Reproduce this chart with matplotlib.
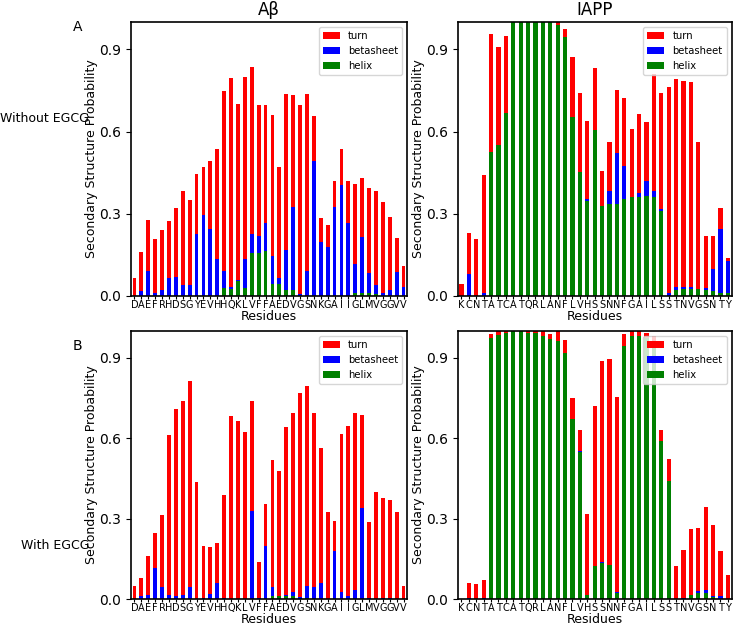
import numpy as np
import matplotlib
matplotlib.use("Agg")
from matplotlib import pyplot as plt

abeta_res = list("DAEFRHDSGYEVHHQKLVFFAEDVGSNKGAIIGLMVGGVV")
iapp_res = list("KCNTATCATQRLANFLVHSSNNFGAILSSTNVGSNTY")

# Abeta, without EGCG
ab_helix = [0, 0, 0, 0, 0, 0, 0, 0, 0, 0, 0, 0, 0, 0.027, 0.025, 0.053, 0.027, 0.155, 0.155, 0.164,
            0.044, 0.042, 0.022, 0.022, 0, 0, 0, 0, 0, 0, 0, 0, 0.01, 0.01, 0.01, 0.007, 0, 0, 0, 0]
ab_beta = [0, 0.016, 0.092, 0.01, 0.02, 0.065, 0.07, 0.04, 0.039, 0.227, 0.295, 0.245, 0.133, 0.065,
           0.006, 0.006, 0.108, 0.069, 0.062, 0.103, 0.10, 0.022, 0.145, 0.302, 0.005, 0.089, 0.493,
           0.196, 0.178, 0.324, 0.405, 0.267, 0.107, 0.205, 0.075, 0.033, 0.01, 0.021, 0.088, 0.032]
ab_turn = [0.065, 0.144, 0.185, 0.199, 0.219, 0.207, 0.252, 0.344, 0.312, 0.217, 0.174, 0.248, 0.402,
           0.656, 0.766, 0.641, 0.665, 0.613, 0.479, 0.429, 0.516, 0.405, 0.571, 0.41, 0.69, 0.647,
           0.163, 0.089, 0.079, 0.094, 0.13, 0.151, 0.291, 0.217, 0.31, 0.341, 0.334, 0.267, 0.124, 0.075]

# Abeta, with EGCG
abe_helix = [0, 0, 0, 0, 0, 0, 0, 0, 0, 0, 0, 0, 0, 0, 0, 0, 0, 0, 0, 0,
             0.01, 0.01, 0.012, 0.012, 0, 0.004, 0, 0, 0, 0, 0, 0, 0, 0, 0, 0, 0, 0, 0, 0]
abe_beta = [0, 0.01, 0.015, 0.116, 0.044, 0.016, 0.012, 0.017, 0.044, 0, 0.003, 0.02, 0.06, 0.005,
            0, 0, 0, 0.33, 0.005, 0.198, 0.035, 0.002, 0.003, 0.015, 0.007, 0.045, 0.045, 0.061,
            0, 0.18, 0.026, 0.012, 0.034, 0.338, 0.005, 0, 0.003, 0.003, 0, 0]
abe_turn = [0.049, 0.067, 0.144, 0.13, 0.271, 0.596, 0.696, 0.723, 0.771, 0.435, 0.195, 0.176, 0.15,
            0.384, 0.682, 0.665, 0.625, 0.407, 0.133, 0.157, 0.475, 0.466, 0.626, 0.668, 0.762, 0.745,
            0.648, 0.501, 0.324, 0.11, 0.588, 0.633, 0.661, 0.347, 0.284, 0.40, 0.374, 0.366, 0.326, 0.049]

# IAPP, without EGCG
ia_helix = [0, 0, 0, 0, 0.525, 0.551, 0.669, 1, 1, 1, 1, 1, 1, 0.99, 0.945, 0.653, 0.453, 0.347,
            0.606, 0.328, 0.337, 0.337, 0.355, 0.359, 0.362, 0.365, 0.361, 0.31, 0, 0.022, 0.024,
            0.024, 0.024, 0.02, 0.017, 0.01, 0.01]
ia_beta = [0, 0.081, 0, 0.01, 0, 0, 0, 0, 0, 0, 0, 0, 0, 0, 0, 0, 0, 0.005, 0, 0, 0.044, 0.183,
           0.12, 0.003, 0.013, 0.055, 0.022, 0.006, 0.01, 0.009, 0.008, 0.008, 0, 0.01, 0.082,
           0.235, 0.116]
ia_turn = [0.044, 0.147, 0.208, 0.431, 0.43, 0.359, 0.28, 0, 0, 0, 0, 0, 0, 0.01, 0.03, 0.219,
           0.287, 0.287, 0.227, 0.129, 0.179, 0.233, 0.249, 0.248, 0.288, 0.214, 0.427, 0.424,
           0.754, 0.759, 0.754, 0.749, 0.538, 0.19, 0.121, 0.077, 0.012]

# IAPP, with EGCG
iae_helix = [0, 0, 0, 0, 0.972, 0.985, 0.994, 1, 1, 0.994, 0.994, 0.982, 0.97, 0.963, 0.918, 0.672,
             0.548, 0.017, 0.125, 0.133, 0.127, 0.024, 0.945, 0.981, 0.982, 0.973, 0.96, 0.591,
             0.441, 0, 0, 0.017, 0.022, 0.021, 0.009, 0, 0]
iae_beta = [0, 0.004, 0, 0.004, 0, 0, 0, 0, 0, 0, 0, 0, 0, 0, 0, 0, 0.004, 0, 0, 0.004, 0, 0.004,
            0, 0, 0, 0, 0, 0, 0, 0, 0.005, 0, 0.007, 0.012, 0.001, 0.011, 0]
iae_turn = [0, 0.055, 0.056, 0.066, 0.015, 0.015, 0.006, 0, 0, 0.006, 0.006, 0.018, 0.017, 0.037,
            0.048, 0.078, 0.077, 0.30, 0.595, 0.75, 0.767, 0.724, 0.042, 0.019, 0.018, 0.021,
            0.022, 0.04, 0.082, 0.122, 0.18, 0.244, 0.236, 0.311, 0.267, 0.167, 0.091]


def panel(ax, res, helix, beta, turn):
    x = np.arange(len(res))
    helix = np.array(helix)
    beta = np.array(beta)
    turn = np.array(turn)
    w = 0.55
    ax.bar(x, turn, w, bottom=helix + beta, color='red', label='turn')
    ax.bar(x, beta, w, bottom=helix, color='blue', label='betasheet')
    ax.bar(x, helix, w, color='green', label='helix')
    ax.set_xlim(-0.5, len(res) - 0.5)
    ax.set_ylim(0, 1.0)
    ax.set_yticks([0, 0.3, 0.6, 0.9])
    ax.set_xticks(x)
    ax.set_xticklabels(res, fontsize=7)
    ax.tick_params(axis='y', labelsize=10)
    ax.tick_params(axis='x', length=2, pad=1)
    ax.set_xlabel("Residues", fontsize=9, labelpad=0)
    ax.set_ylabel("Secondary Structure Probability", fontsize=9, labelpad=1)
    ax.legend(loc='upper right', fontsize=7.2, handlelength=1.7)
    for s in ax.spines.values():
        s.set_linewidth(1.2)


fig = plt.figure(figsize=(7.36, 6.28), dpi=100)
ax1 = fig.add_axes([0.178, 0.529, 0.375, 0.436])
ax2 = fig.add_axes([0.622, 0.529, 0.372, 0.436])
ax3 = fig.add_axes([0.178, 0.046, 0.375, 0.427])
ax4 = fig.add_axes([0.622, 0.046, 0.372, 0.427])

panel(ax1, abeta_res, ab_helix, ab_beta, ab_turn)
panel(ax2, iapp_res, ia_helix, ia_beta, ia_turn)
panel(ax3, abeta_res, abe_helix, abe_beta, abe_turn)
panel(ax4, iapp_res, iae_helix, iae_beta, iae_turn)

ax1.set_title("Aβ", fontsize=12, pad=5)
ax2.set_title("IAPP", fontsize=12, pad=5)

fig.text(0.105, 0.957, "A", fontsize=10, ha='center', va='center')
fig.text(0.105, 0.449, "B", fontsize=10, ha='center', va='center')
fig.text(0.121, 0.812, "Without EGCG", fontsize=9, ha='right', va='center')
fig.text(0.121, 0.132, "With EGCG", fontsize=9, ha='right', va='center')

fig.savefig("out.png", dpi=100)
